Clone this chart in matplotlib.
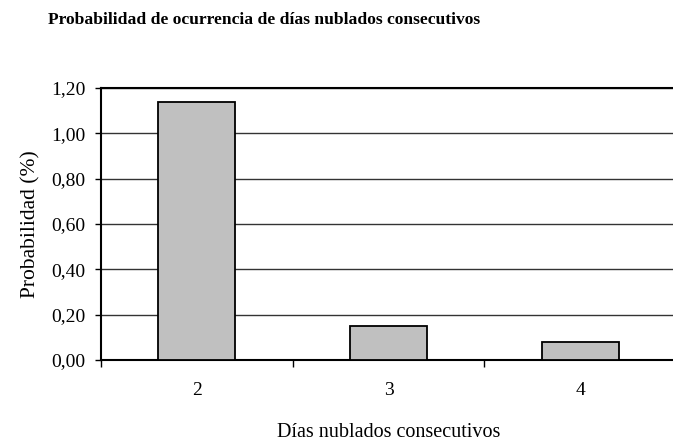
import matplotlib
matplotlib.use("Agg")
import matplotlib.pyplot as plt
from matplotlib.ticker import FixedLocator, NullFormatter, FuncFormatter

categories = ["2", "3", "4"]
values = [1.14, 0.15, 0.08]
yticks = [0.0, 0.2, 0.4, 0.6, 0.8, 1.0, 1.2]

plt.rcParams['font.family'] = ['Liberation Serif', 'DejaVu Serif']

W, H = 673, 445
fig = plt.figure(figsize=(W/100, H/100), dpi=100)
left, right, top, bottom = 101, 676, 88, 360
ax = fig.add_axes([left/W, 1-bottom/H, (right-left)/W, (bottom-top)/H])

x = list(range(len(categories)))
ax.bar(x, values, width=0.403, color='#c0c0c0', edgecolor='black', linewidth=1.3, zorder=3)
ax.set_xlim(-0.5, len(categories)-0.5)
ax.set_ylim(0, 1.2)

ax.set_yticks(yticks)
ax.yaxis.set_major_formatter(FuncFormatter(lambda v, p: f"{v:.2f}".replace('.', ',')))
ax.yaxis.grid(True, color='#333333', linewidth=1.0, zorder=0)
ax.set_axisbelow(True)

ax.set_xticks(x)
ax.set_xticklabels(categories)
ax.xaxis.set_minor_locator(FixedLocator([i-0.5 for i in range(len(categories)+1)]))
ax.xaxis.set_minor_formatter(NullFormatter())
ax.tick_params(axis='x', which='major', length=0, pad=16, labelsize=14)
ax.tick_params(axis='x', which='minor', length=5, width=1, direction='out')
ax.tick_params(axis='y', length=4, width=1, direction='out', labelsize=14, pad=7)

for s in ['left', 'bottom', 'top']:
    ax.spines[s].set_linewidth(1.5)
    ax.spines[s].set_color('black')
ax.spines['right'].set_visible(False)

ax.set_ylabel("Probabilidad (%)", fontsize=15.5, labelpad=8)
ax.set_xlabel("Días nublados consecutivos", fontsize=14.5, labelpad=17)

fig.text(264/W, 1-20/H, "Probabilidad de ocurrencia de días nublados consecutivos",
         ha='center', va='center', fontsize=12.6, fontweight='bold')

fig.savefig("out.png", dpi=100)
